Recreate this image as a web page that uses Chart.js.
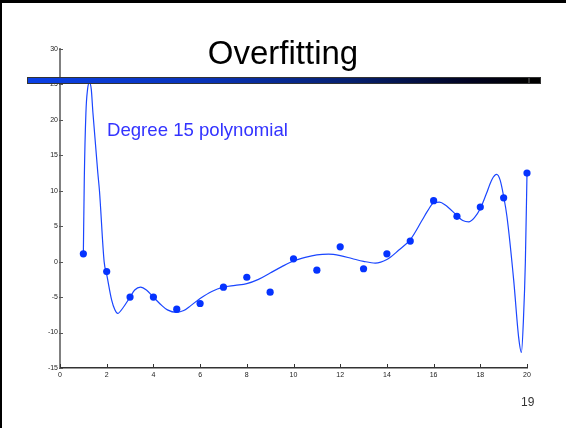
<!DOCTYPE html>
<html>
<head>
<meta charset="utf-8">
<script src="https://cdn.jsdelivr.net/npm/chart.js@4.4.1/dist/chart.umd.min.js"></script>
<style>
  body { margin: 0; background: #fff; }
  #slide { position: relative; width: 566px; height: 428px; overflow: hidden; background: #fff; font-family: "Liberation Sans", Arial, Helvetica, sans-serif; }
  #chart_box { position: absolute; left: 0; top: 0; width: 566px; height: 428px; }
  .edge { position: absolute; background: #000; z-index: 3; }
  #title { position: absolute; left: 0; width: 566px; top: 36px; text-align: center; font-size: 33px; line-height: 33px; color: #000; z-index: 2; }
  #bar { position: absolute; left: 27px; top: 77px; width: 500px; height: 5px; border: 1px solid #333; z-index: 2;
         background: linear-gradient(to right, #0b40e6 0%, #0933b8 35%, #06206e 65%, #010322 88%, #000 100%); }
  #bar_end { position: absolute; left: 529px; top: 77px; width: 10px; height: 5px; border: 1px solid #333; background: #000; z-index: 2; }
  #note { position: absolute; left: 107px; top: 121px; font-size: 18.6px; line-height: 18px; color: #3333ff; z-index: 2; white-space: nowrap; }
  #page_no { position: absolute; left: 521px; top: 396px; font-size: 12px; line-height: 12px; color: #333; z-index: 2; }
</style>
</head>
<body>
<div id="slide">
  <div id="chart_box"><canvas id="fit_chart" width="566" height="428"></canvas></div>
  <div class="edge" style="left:0;top:0;width:566px;height:3px;"></div>
  <div class="edge" style="left:0;top:0;width:2px;height:428px;"></div>
  <div id="title">Overfitting</div>
  <div id="bar"></div>
  <div id="bar_end"></div>
  <div id="note">Degree 15 polynomial</div>
  <div id="page_no">19</div>
</div>
<script>
// sample points
var x_points = [1, 2, 3, 4, 5, 6, 7, 8, 9, 10, 11, 12, 13, 14, 15, 16, 17, 18, 19, 20];
var y_points = [1.1, -1.4, -5.0, -5.0, -6.7, -5.9, -3.6, -2.2, -4.3, 0.4, -1.2, 2.1, -1.0, 1.1, 2.9, 8.6, 6.4, 7.7, 9.0, 12.5];

// degree 15 fit
var curve_x = [1.0, 1.04, 1.11, 1.18, 1.26, 1.34, 1.41, 1.62, 1.69, 1.89, 2.0, 2.21, 2.35, 2.47, 2.7,
    3.0, 3.2, 3.45, 3.7, 4.0, 4.3, 4.6, 5.0, 5.3, 5.6, 6.0, 6.5, 7.0, 7.5, 8.0, 8.5, 9.0, 9.5,
    10.0, 10.5, 11.0, 11.5, 12.0, 12.5, 13.0, 13.5, 14.0, 14.5, 15.0, 15.5, 15.75, 16.0, 16.25, 16.5,
    17.0, 17.25, 17.5, 17.75, 18.0, 18.25, 18.5, 18.7, 18.85, 19.0, 19.14, 19.43, 19.64, 19.76, 19.85, 19.93, 20.0];
var curve_y = [1.1, 11.6, 21.0, 24.3, 25.3, 24.3, 21.0, 12.5, 10.0, 0.0, -1.8, -5.4, -6.8, -7.3, -6.5,
    -5.0, -4.0, -3.6, -4.0, -5.0, -6.0, -6.8, -7.15, -6.9, -6.2, -5.2, -4.2, -3.6, -3.35, -3.1, -2.5, -1.6, -0.7,
    0.1, 0.6, 0.95, 1.05, 0.85, 0.45, 0.05, -0.2, 0.3, 1.6, 3.1, 5.8, 7.2, 8.3, 8.4, 8.0,
    6.5, 5.8, 5.6, 6.2, 7.5, 9.5, 11.6, 12.3, 11.5, 9.2, 6.4, -2.6, -10.6, -12.8, -8.0, 0.0, 12.5];

var x_ticks = [0, 2, 4, 6, 8, 10, 12, 14, 16, 18, 20];
var y_ticks = [-15, -10, -5, 0, 5, 10, 15, 20, 25, 30];

var to_xy = (xs, ys) => xs.map((x, i) => ({ x: x, y: ys[i] }));

// matlab style ticks pointing into the plot
var inner_ticks = {
    id: "inner_ticks",
    afterDraw: (chart) => {
        var ctx = chart.ctx;
        var area = chart.chartArea;
        var sx = chart.scales.x;
        var sy = chart.scales.y;
        ctx.save();
        ctx.lineWidth = 1;
        ctx.strokeStyle = "#333";
        x_ticks.forEach((v) => {
            var px = Math.round(sx.getPixelForValue(v)) + 0.5;
            ctx.beginPath();
            ctx.moveTo(px, area.bottom);
            ctx.lineTo(px, area.bottom - 4);
            ctx.stroke();
        });
        ctx.strokeStyle = "#555";
        y_ticks.forEach((v) => {
            var py = Math.round(sy.getPixelForValue(v)) + 0.5;
            ctx.beginPath();
            ctx.moveTo(area.left - 1, py);
            ctx.lineTo(area.left + 3, py);
            ctx.stroke();
        });
        ctx.restore();
    }
};

var tick_font = { family: "'Liberation Sans', Arial, sans-serif", size: 7 };

var create_chart = () => {
    var canva = document.getElementById("fit_chart");
    var config = {
        type: "scatter",
        data: {
            datasets: [{
                label: "fit",
                data: to_xy(curve_x, curve_y),
                showLine: true,
                borderColor: "#1a46ff",
                borderWidth: 1.2,
                pointRadius: 0,
                cubicInterpolationMode: "monotone",
                clip: 2,
                order: 2
            }, {
                label: "data",
                data: to_xy(x_points, y_points),
                showLine: false,
                pointRadius: 3.6,
                pointBackgroundColor: "#0533ff",
                pointBorderWidth: 0,
                clip: false,
                order: 1
            }]
        },
        options: {
            responsive: false,
            animation: false,
            events: [],
            layout: { padding: { left: 40, right: 39, top: 49, bottom: 40 } },
            plugins: {
                legend: { display: false },
                tooltip: { enabled: false }
            },
            scales: {
                x: {
                    type: "linear",
                    min: 0,
                    max: 20,
                    afterFit: (s) => { s.height = 20; },
                    afterBuildTicks: (s) => { s.ticks = x_ticks.map((v) => ({ value: v })); },
                    grid: { display: true, drawOnChartArea: false, drawTicks: false },
                    border: { display: true, color: "#333", width: 1.5 },
                    ticks: { font: tick_font, color: "#222", padding: 3, maxRotation: 0 }
                },
                y: {
                    type: "linear",
                    min: -15,
                    max: 30,
                    afterFit: (s) => { s.width = 20; },
                    afterBuildTicks: (s) => { s.ticks = y_ticks.map((v) => ({ value: v })); },
                    grid: { display: true, drawOnChartArea: false, drawTicks: false },
                    border: { display: true, color: "#808080", width: 2 },
                    ticks: { font: tick_font, color: "#222", padding: 2 }
                }
            }
        },
        plugins: [inner_ticks]
    };
    return new Chart(canva, config);
};

create_chart();
</script>
</body>
</html>
